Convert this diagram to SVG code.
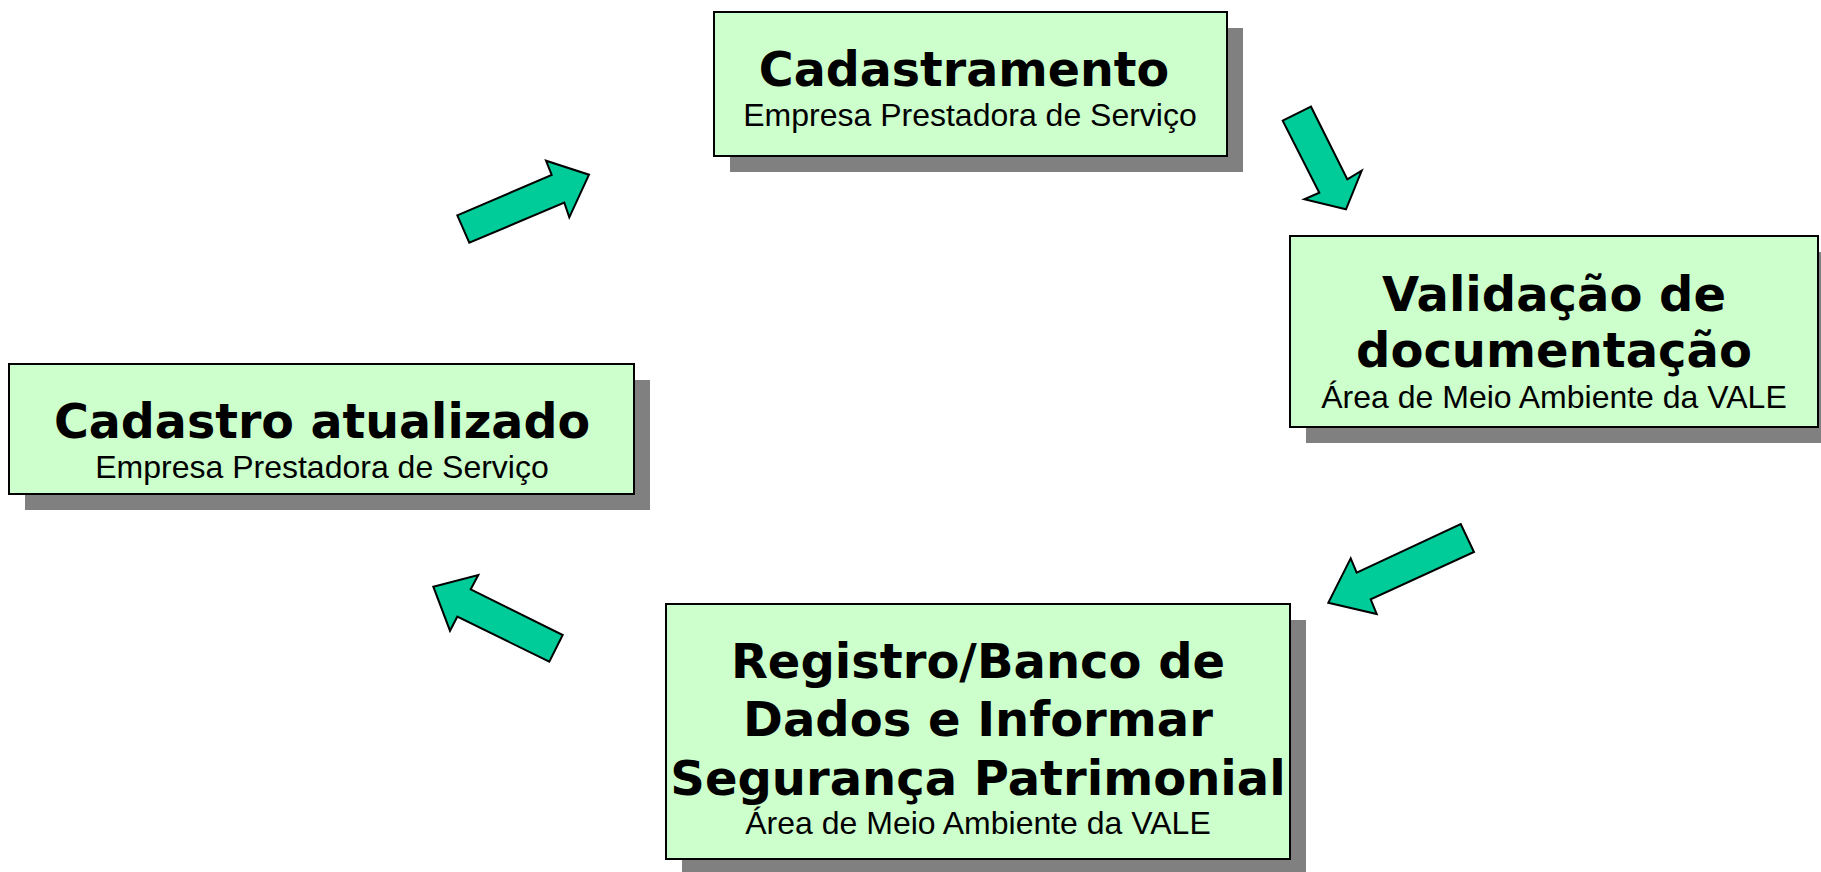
<svg xmlns="http://www.w3.org/2000/svg" width="1821" height="872" viewBox="0 0 1821 872">
<style>
.shadow{fill:#808080;}
.box{fill:#CCFFCC;stroke:#000;stroke-width:2;}
.title{font-family:"DejaVu Sans",Verdana,sans-serif;font-weight:bold;font-size:48px;fill:#000;text-anchor:middle;}
.sub{font-family:"Liberation Sans",Arial,sans-serif;font-size:32px;fill:#000;text-anchor:middle;}
.arrow{fill:#00CC99;stroke:#000;stroke-width:2;stroke-linejoin:miter;}
</style>
<rect x="0" y="0" width="1821" height="872" fill="#FFFFFF"/>
<g id="connectors">
<polygon class="arrow" points="457.3,215.3 551.7,175 546,160.7 589,174.7 569.3,217.3 564.3,202.7 469.3,242.7"/>
<polygon class="arrow" points="1282.7,120.7 1311,106.7 1347.3,179.3 1361.7,170.7 1346,209.3 1304.3,199.3 1319.3,192.7"/>
<polygon class="arrow" points="1460.7,524 1474,552 1370.7,599.3 1376.7,614 1328.3,602.7 1350.7,558.3 1356.7,572.7"/>
<polygon class="arrow" points="433.3,586.7 478.3,575 470.7,589.3 562.7,635 549.3,661.7 457.3,616.7 450,630.7"/>
</g>
<g id="node-cadastramento">
<rect class="shadow" x="730" y="28" width="513" height="144"/>
<rect class="box" x="714" y="12" width="513" height="144"/>
<text class="title" x="964" y="86" style="font-size:47.5px">Cadastramento</text>
<text class="sub" x="970" y="126">Empresa Prestadora de Serviço</text>
</g>
<g id="node-validacao">
<rect class="shadow" x="1306" y="252" width="528" height="191"/>
<rect class="box" x="1290" y="236" width="528" height="191"/>
<text class="title" x="1554" y="311">Validação de</text>
<text class="title" x="1554" y="367">documentação</text>
<text class="sub" x="1554" y="408">Área de Meio Ambiente da VALE</text>
</g>
<g id="node-registro">
<rect class="shadow" x="682" y="620" width="624" height="255"/>
<rect class="box" x="666" y="604" width="624" height="255"/>
<text class="title" x="978" y="678">Registro/Banco de</text>
<text class="title" x="978" y="736">Dados e Informar</text>
<text class="title" x="978" y="795">Segurança Patrimonial</text>
<text class="sub" x="978" y="834">Área de Meio Ambiente da VALE</text>
</g>
<g id="node-cadastro-atualizado">
<rect class="shadow" x="25" y="380" width="625" height="130"/>
<rect class="box" x="9" y="364" width="625" height="130"/>
<text class="title" x="322" y="438" style="font-size:47.5px">Cadastro atualizado</text>
<text class="sub" x="322" y="478">Empresa Prestadora de Serviço</text>
</g>
</svg>
